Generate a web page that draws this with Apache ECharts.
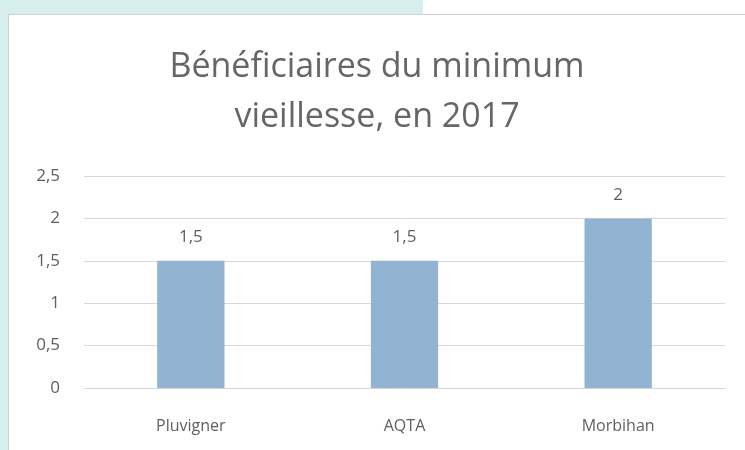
<!DOCTYPE html>
<html>
<head>
<meta charset="utf-8">
<script src="https://cdn.jsdelivr.net/npm/echarts@6/dist/echarts.min.js"></script>
<style>
  html, body { margin: 0; padding: 0; background: #ffffff; }
  #teal { position: absolute; left: 0; top: 0; width: 423px; height: 450px; background: #d6efec; }
  #box { position: absolute; left: 8px; top: 14px; width: 737px; height: 436px; background: #fff;
         border-left: 1px solid #d0d0d0; border-top: 1px solid #d0d0d0; box-sizing: border-box; }
  #chart { position: absolute; left: 9px; top: 15px; width: 736px; height: 435px; }
</style>
</head>
<body>
<div id="teal"></div>
<div id="box"></div>
<div id="chart"></div>
<script>
// données
var categories = ['Pluvigner', 'AQTA', 'Morbihan'];
var values = [1.5, 1.5, 2];
var titleLines = ['Bénéficiaires du minimum', 'vieillesse, en 2017'];

var textColor = '#5f5f5f';
var fontFam = '"Open Sans", "DejaVu Sans", sans-serif';

function virgule(v) {
    return String(v).replace('.', ',');
}

var myChart = echarts.init(document.getElementById('chart'));

var option = {
    animation: false,
    title: {
        text: titleLines.join('\n'),
        left: 'center',
        top: 22,
        textStyle: {
            color: '#666666',
            fontFamily: fontFam,
            fontWeight: 'normal',
            fontSize: 34,
            lineHeight: 50
        }
    },
    grid: {
        left: 75,
        right: 20,
        top: 161,
        bottom: 62,
        containLabel: false
    },
    xAxis: {
        type: 'category',
        data: categories,
        axisLine: { lineStyle: { color: '#d9d9d9', width: 1 } },
        axisTick: { show: false },
        axisLabel: {
            color: textColor,
            fontFamily: fontFam,
            fontSize: 16,
            margin: 30
        }
    },
    yAxis: {
        type: 'value',
        min: 0,
        max: 2.5,
        interval: 0.5,
        axisLine: { show: false },
        axisTick: { show: false },
        splitLine: { lineStyle: { color: '#d9d9d9', width: 1 } },
        axisLabel: {
            color: textColor,
            fontFamily: fontFam,
            fontSize: 17,
            margin: 24,
            formatter: virgule
        }
    },
    series: [{
        type: 'bar',
        data: values,
        barWidth: '31.5%',
        itemStyle: { color: '#92b4d2' },
        label: {
            show: true,
            position: 'top',
            distance: 15,
            color: textColor,
            fontFamily: fontFam,
            fontSize: 17,
            formatter: function (p) { return virgule(p.value); }
        }
    }]
};

myChart.setOption(option);
window.onresize = function () {
    myChart.resize();
};
</script>
</body>
</html>
